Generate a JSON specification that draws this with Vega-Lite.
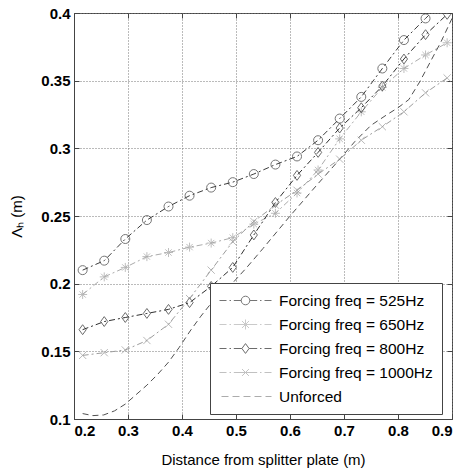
{
  "$schema": "https://vega.github.io/schema/vega-lite/v6.json",
  "width": 378,
  "height": 406,
  "autosize": {"type": "none"},
  "padding": {"left": 74, "top": 13, "right": 10, "bottom": 53},
  "background": "white",
  "config": {
    "font": "Liberation Sans",
    "view": {"stroke": "#444", "strokeWidth": 1},
    "axis": {
      "domainColor": "#444",
      "tickColor": "#444",
      "labelColor": "#000",
      "titleColor": "#000",
      "labelFont": "Liberation Sans",
      "labelFontSize": 15,
      "labelFontWeight": "bold",
      "titleFont": "Liberation Sans",
      "titleFontSize": 15,
      "titleFontWeight": "normal",
      "gridColor": "#777",
      "gridDash": [1, 2],
      "gridOpacity": 1,
      "gridWidth": 1
    },
    "legend": {
      "orient": "none",
      "legendX": 136,
      "legendY": 270,
      "padding": 9,
      "fillColor": "white",
      "strokeColor": "#444",
      "symbolSize": 256,
      "symbolStrokeWidth": 1,
      "labelFont": "Liberation Sans",
      "labelFontSize": 15.5,
      "labelColor": "#000",
      "labelOffset": 43,
      "rowPadding": 7
    }
  },
  "datasets": {
    "curves": [
      {"s": "Forcing freq = 525Hz", "x": 0.216, "y": 0.210},
      {"s": "Forcing freq = 525Hz", "x": 0.256, "y": 0.217},
      {"s": "Forcing freq = 525Hz", "x": 0.295, "y": 0.233},
      {"s": "Forcing freq = 525Hz", "x": 0.335, "y": 0.247},
      {"s": "Forcing freq = 525Hz", "x": 0.375, "y": 0.257},
      {"s": "Forcing freq = 525Hz", "x": 0.414, "y": 0.265},
      {"s": "Forcing freq = 525Hz", "x": 0.454, "y": 0.271},
      {"s": "Forcing freq = 525Hz", "x": 0.494, "y": 0.275},
      {"s": "Forcing freq = 525Hz", "x": 0.533, "y": 0.281},
      {"s": "Forcing freq = 525Hz", "x": 0.573, "y": 0.288},
      {"s": "Forcing freq = 525Hz", "x": 0.613, "y": 0.294},
      {"s": "Forcing freq = 525Hz", "x": 0.652, "y": 0.306},
      {"s": "Forcing freq = 525Hz", "x": 0.692, "y": 0.322},
      {"s": "Forcing freq = 525Hz", "x": 0.732, "y": 0.338},
      {"s": "Forcing freq = 525Hz", "x": 0.771, "y": 0.359},
      {"s": "Forcing freq = 525Hz", "x": 0.811, "y": 0.380},
      {"s": "Forcing freq = 525Hz", "x": 0.851, "y": 0.396},
      {"s": "Forcing freq = 525Hz", "x": 0.891, "y": 0.412},
      {"s": "Forcing freq = 650Hz", "x": 0.216, "y": 0.192},
      {"s": "Forcing freq = 650Hz", "x": 0.256, "y": 0.205},
      {"s": "Forcing freq = 650Hz", "x": 0.295, "y": 0.212},
      {"s": "Forcing freq = 650Hz", "x": 0.335, "y": 0.220},
      {"s": "Forcing freq = 650Hz", "x": 0.375, "y": 0.223},
      {"s": "Forcing freq = 650Hz", "x": 0.414, "y": 0.227},
      {"s": "Forcing freq = 650Hz", "x": 0.454, "y": 0.230},
      {"s": "Forcing freq = 650Hz", "x": 0.494, "y": 0.234},
      {"s": "Forcing freq = 650Hz", "x": 0.533, "y": 0.244},
      {"s": "Forcing freq = 650Hz", "x": 0.573, "y": 0.252},
      {"s": "Forcing freq = 650Hz", "x": 0.613, "y": 0.267},
      {"s": "Forcing freq = 650Hz", "x": 0.652, "y": 0.284},
      {"s": "Forcing freq = 650Hz", "x": 0.692, "y": 0.307},
      {"s": "Forcing freq = 650Hz", "x": 0.732, "y": 0.327},
      {"s": "Forcing freq = 650Hz", "x": 0.771, "y": 0.345},
      {"s": "Forcing freq = 650Hz", "x": 0.811, "y": 0.359},
      {"s": "Forcing freq = 650Hz", "x": 0.851, "y": 0.369},
      {"s": "Forcing freq = 650Hz", "x": 0.891, "y": 0.378},
      {"s": "Forcing freq = 800Hz", "x": 0.216, "y": 0.166},
      {"s": "Forcing freq = 800Hz", "x": 0.256, "y": 0.172},
      {"s": "Forcing freq = 800Hz", "x": 0.295, "y": 0.175},
      {"s": "Forcing freq = 800Hz", "x": 0.335, "y": 0.178},
      {"s": "Forcing freq = 800Hz", "x": 0.375, "y": 0.181},
      {"s": "Forcing freq = 800Hz", "x": 0.414, "y": 0.186},
      {"s": "Forcing freq = 800Hz", "x": 0.454, "y": 0.198},
      {"s": "Forcing freq = 800Hz", "x": 0.494, "y": 0.212},
      {"s": "Forcing freq = 800Hz", "x": 0.533, "y": 0.236},
      {"s": "Forcing freq = 800Hz", "x": 0.573, "y": 0.260},
      {"s": "Forcing freq = 800Hz", "x": 0.613, "y": 0.280},
      {"s": "Forcing freq = 800Hz", "x": 0.652, "y": 0.297},
      {"s": "Forcing freq = 800Hz", "x": 0.692, "y": 0.315},
      {"s": "Forcing freq = 800Hz", "x": 0.732, "y": 0.330},
      {"s": "Forcing freq = 800Hz", "x": 0.771, "y": 0.346},
      {"s": "Forcing freq = 800Hz", "x": 0.811, "y": 0.366},
      {"s": "Forcing freq = 800Hz", "x": 0.851, "y": 0.384},
      {"s": "Forcing freq = 800Hz", "x": 0.891, "y": 0.399},
      {"s": "Forcing freq = 1000Hz", "x": 0.216, "y": 0.147},
      {"s": "Forcing freq = 1000Hz", "x": 0.256, "y": 0.149},
      {"s": "Forcing freq = 1000Hz", "x": 0.295, "y": 0.151},
      {"s": "Forcing freq = 1000Hz", "x": 0.335, "y": 0.158},
      {"s": "Forcing freq = 1000Hz", "x": 0.375, "y": 0.170},
      {"s": "Forcing freq = 1000Hz", "x": 0.414, "y": 0.189},
      {"s": "Forcing freq = 1000Hz", "x": 0.454, "y": 0.210},
      {"s": "Forcing freq = 1000Hz", "x": 0.494, "y": 0.231},
      {"s": "Forcing freq = 1000Hz", "x": 0.533, "y": 0.246},
      {"s": "Forcing freq = 1000Hz", "x": 0.573, "y": 0.258},
      {"s": "Forcing freq = 1000Hz", "x": 0.613, "y": 0.269},
      {"s": "Forcing freq = 1000Hz", "x": 0.652, "y": 0.281},
      {"s": "Forcing freq = 1000Hz", "x": 0.692, "y": 0.292},
      {"s": "Forcing freq = 1000Hz", "x": 0.732, "y": 0.306},
      {"s": "Forcing freq = 1000Hz", "x": 0.771, "y": 0.316},
      {"s": "Forcing freq = 1000Hz", "x": 0.811, "y": 0.327},
      {"s": "Forcing freq = 1000Hz", "x": 0.851, "y": 0.341},
      {"s": "Forcing freq = 1000Hz", "x": 0.891, "y": 0.352},
      {"s": "Unforced", "x": 0.216, "y": 0.104},
      {"s": "Unforced", "x": 0.235, "y": 0.1025},
      {"s": "Unforced", "x": 0.255, "y": 0.103},
      {"s": "Unforced", "x": 0.275, "y": 0.106},
      {"s": "Unforced", "x": 0.295, "y": 0.111},
      {"s": "Unforced", "x": 0.315, "y": 0.118},
      {"s": "Unforced", "x": 0.335, "y": 0.125},
      {"s": "Unforced", "x": 0.355, "y": 0.133},
      {"s": "Unforced", "x": 0.375, "y": 0.142},
      {"s": "Unforced", "x": 0.395, "y": 0.153},
      {"s": "Unforced", "x": 0.415, "y": 0.165},
      {"s": "Unforced", "x": 0.435, "y": 0.176},
      {"s": "Unforced", "x": 0.455, "y": 0.186},
      {"s": "Unforced", "x": 0.475, "y": 0.194},
      {"s": "Unforced", "x": 0.495, "y": 0.201},
      {"s": "Unforced", "x": 0.52, "y": 0.212},
      {"s": "Unforced", "x": 0.55, "y": 0.226},
      {"s": "Unforced", "x": 0.60, "y": 0.250},
      {"s": "Unforced", "x": 0.65, "y": 0.273},
      {"s": "Unforced", "x": 0.69, "y": 0.291},
      {"s": "Unforced", "x": 0.72, "y": 0.305},
      {"s": "Unforced", "x": 0.75, "y": 0.317},
      {"s": "Unforced", "x": 0.78, "y": 0.325},
      {"s": "Unforced", "x": 0.80, "y": 0.330},
      {"s": "Unforced", "x": 0.82, "y": 0.336},
      {"s": "Unforced", "x": 0.84, "y": 0.349},
      {"s": "Unforced", "x": 0.86, "y": 0.364},
      {"s": "Unforced", "x": 0.88, "y": 0.379},
      {"s": "Unforced", "x": 0.90, "y": 0.396}
    ]
  },
  "data": {"name": "curves"},
  "resolve": {
    "scale": {"color": "independent", "shape": "independent"},
    "axis": {"x": "independent", "y": "independent"}
  },
  "layer": [
    {
      "mark": {"type": "line", "strokeWidth": 1, "clip": true},
      "encoding": {
        "x": {
          "field": "x",
          "type": "quantitative",
          "scale": {"domain": [0.2, 0.9], "nice": false, "zero": false},
          "axis": {
            "orient": "bottom",
            "values": [0.2, 0.3, 0.4, 0.5, 0.6, 0.7, 0.8, 0.9],
            "format": ".1f",
            "tickSize": -5,
            "labelPadding": 9,
            "title": "Distance from splitter plate (m)",
            "titlePadding": 14,
            "grid": true
          }
        },
        "y": {
          "field": "y",
          "type": "quantitative",
          "scale": {"domain": [0.1, 0.4], "nice": false, "zero": false},
          "axis": {
            "orient": "left",
            "values": [0.1, 0.15, 0.2, 0.25, 0.3, 0.35, 0.4],
            "format": "~g",
            "tickSize": -5,
            "labelPadding": 9,
            "title": "Λₕ (m)",
            "titlePadding": 16,
            "grid": true
          }
        },
        "color": {
          "field": "s",
          "type": "nominal",
          "scale": {
            "domain": ["Forcing freq = 525Hz", "Forcing freq = 650Hz", "Forcing freq = 800Hz", "Forcing freq = 1000Hz", "Unforced"],
            "range": ["#3c3c3c", "#ababab", "#2e2e2e", "#9c9c9c", "#505050"]
          },
          "legend": null
        },
        "strokeDash": {
          "field": "s",
          "type": "nominal",
          "scale": {
            "domain": ["Forcing freq = 525Hz", "Forcing freq = 650Hz", "Forcing freq = 800Hz", "Forcing freq = 1000Hz", "Unforced"],
            "range": [[6, 3, 2, 3], [6, 3, 2, 3], [6, 3, 2, 3], [6, 3, 2, 3], [6, 4]]
          },
          "legend": null
        }
      }
    },
    {
      "transform": [{"filter": "datum.s !== 'Unforced'"}],
      "mark": {"type": "point", "filled": false, "strokeWidth": 1, "size": 81, "clip": true},
      "encoding": {
        "x": {
          "field": "x",
          "type": "quantitative",
          "axis": {
            "orient": "top",
            "values": [0.2, 0.3, 0.4, 0.5, 0.6, 0.7, 0.8, 0.9],
            "labels": false,
            "domain": false,
            "grid": false,
            "tickSize": -5,
            "title": null
          }
        },
        "y": {
          "field": "y",
          "type": "quantitative",
          "axis": {
            "orient": "right",
            "values": [0.1, 0.15, 0.2, 0.25, 0.3, 0.35, 0.4],
            "labels": false,
            "domain": false,
            "grid": false,
            "tickSize": -5,
            "title": null
          }
        },
        "color": {
          "field": "s",
          "type": "nominal",
          "scale": {
            "domain": ["Forcing freq = 525Hz", "Forcing freq = 650Hz", "Forcing freq = 800Hz", "Forcing freq = 1000Hz"],
            "range": ["#3c3c3c", "#a4a4a4", "#2e2e2e", "#9c9c9c"]
          },
          "legend": null
        },
        "shape": {
          "field": "s",
          "type": "nominal",
          "scale": {
            "domain": ["Forcing freq = 525Hz", "Forcing freq = 650Hz", "Forcing freq = 800Hz", "Forcing freq = 1000Hz"],
            "range": [
              "circle",
              "M0,-1L0,1M-1,0L1,0M-0.7,-0.7L0.7,0.7M-0.7,0.7L0.7,-0.7",
              "M0,-1.1L0.8,0L0,1.1L-0.8,0Z",
              "M-0.8,-0.8L0.8,0.8M-0.8,0.8L0.8,-0.8"
            ]
          },
          "legend": null
        }
      }
    },
    {
      "data": {"values": []},
      "mark": {"type": "point", "filled": false, "strokeWidth": 1, "size": 256},
      "encoding": {
        "color": {
          "field": "s",
          "type": "nominal",
          "scale": {
            "domain": ["Forcing freq = 525Hz", "Forcing freq = 650Hz", "Forcing freq = 800Hz", "Forcing freq = 1000Hz", "Unforced"],
            "range": ["#3c3c3c", "#b4b4b4", "#2e2e2e", "#a8a8a8", "#8a8a8a"]
          },
          "legend": {"title": null}
        },
        "shape": {
          "field": "s",
          "type": "nominal",
          "scale": {
            "domain": ["Forcing freq = 525Hz", "Forcing freq = 650Hz", "Forcing freq = 800Hz", "Forcing freq = 1000Hz", "Unforced"],
            "range": [
              "M-1,0L-0.125,0M0.25,0L0.4375,0M0.7875,0L1.7125,0M2.7875,0L3.7125,0M4.0625,0L4.25,0M4.625,0L5.5,0M1.7125,0A0.5375,0.5375 0 1,0 2.7875,0A0.5375,0.5375 0 1,0 1.7125,0",
              "M-1,0L-0.125,0M0.25,0L0.4375,0M0.7875,0L3.7125,0M4.0625,0L4.25,0M4.625,0L5.5,0M2.25,-0.625L2.25,0.625M1.81,-0.44L2.69,0.44M1.81,0.44L2.69,-0.44",
              "M-1,0L-0.125,0M0.25,0L0.4375,0M0.7875,0L1.8,0M2.7,0L3.7125,0M4.0625,0L4.25,0M4.625,0L5.5,0M2.25,-0.6125L2.7,0L2.25,0.6125L1.8,0Z",
              "M-1,0L-0.125,0M0.25,0L0.4375,0M0.7875,0L3.7125,0M4.0625,0L4.25,0M4.625,0L5.5,0M1.825,-0.425L2.675,0.425M1.825,0.425L2.675,-0.425",
              "M-0.75,0L0.125,0M0.625,0L1.5,0M2,0L2.875,0M3.375,0L4.25,0M4.75,0L5.5,0"
            ]
          },
          "legend": {"title": null}
        }
      }
    }
  ]
}
